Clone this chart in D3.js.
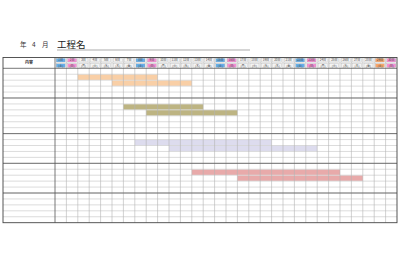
<!DOCTYPE html>
<html><head><meta charset="utf-8">
<script src="https://cdn.jsdelivr.net/npm/d3@7"></script>
<style>html,body{margin:0;padding:0;background:#fff;}svg{display:block;}</style>
</head><body>
<svg id="c" width="400" height="275"></svg>
<script>
// ---- data ----
const titleMonth = "4";
const titleText = "工程名";
const labelHeader = "内容";
const days = d3.range(1, 31).map(d => d + "日");
const weekdays = ["土","日","月","火","水","木","金","土","日","月","火","水","木","金","土","日","月","火","水","木","金","土","日","月","火","水","木","金","土","日"];
const dayTypes = ["sat","sun","w","w","w","w","w","sat","sun","w","w","w","w","w","sat","sun","w","w","w","w","w","sat","sun","w","w","w","w","w","hol","sun"];
const groupSizes = [5, 6, 5, 5, 5];
const barRows   = [1, 2, 6, 7, 12, 13, 17, 18];
const barStart  = [3, 6, 7, 9, 8, 11, 13, 17];
const barEnd    = [9, 12, 13, 16, 19, 23, 25, 27];
const barGroup  = ["a","a","b","b","c","c","d","d"];

// ---- styles ----
const barColors = {a:"#f9cfa6", b:"#bdb482", c:"#dddcee", d:"#e8aaaa"};
const headColors = {sat:"#66aee8", sun:"#f58fd2", hol:"#f6a66a", w:"#f4f4f4"};

const svg = d3.select("#c");
const left = 3, labelW = 55, right = 397;
const headTop = 57.5, headMid = 62.9, bodyTop = 68.3, bodyBot = 222.7;
const nRows = d3.sum(groupSizes);

const x = d3.scaleBand().domain(days).range([labelW, right]);
const y = d3.scaleLinear().domain([0, nRows]).range([bodyTop, bodyBot]);

// title
svg.append("text").attr("x", 20).attr("y", 47).attr("font-size", 6.5)
  .attr("font-family", "Noto Sans CJK JP").attr("fill", "#333").text("年");
svg.append("text").attr("x", 32).attr("y", 47).attr("font-size", 6.5)
  .attr("font-family", "Noto Sans CJK JP").attr("fill", "#333").text(titleMonth);
svg.append("text").attr("x", 42).attr("y", 47).attr("font-size", 6.5)
  .attr("font-family", "Noto Sans CJK JP").attr("fill", "#333").text("月");
svg.append("text").attr("x", 57).attr("y", 47.5).attr("font-size", 9.5)
  .attr("font-family", "Noto Sans CJK JP").attr("fill", "#222").text(titleText);
svg.append("line").attr("x1", 57).attr("x2", 250).attr("y1", 50).attr("y2", 50)
  .attr("stroke", "#888").attr("stroke-width", 0.7);

// header cells
const hc = svg.append("g");
days.forEach((d, i) => {
  const x0 = x(d), w = x.bandwidth();
  [[headTop, headMid, d], [headMid, bodyTop, "(" + weekdays[i] + ")"]].forEach(([a, b, t]) => {
    hc.append("rect").attr("x", x0 + 1.2).attr("y", a + 0.9).attr("width", w - 2.4).attr("height", b - a - 1.8)
      .attr("fill", headColors[dayTypes[i]]).attr("stroke", "#aaa").attr("stroke-width", 0.3);
    hc.append("text").attr("x", x0 + w / 2).attr("y", (a + b) / 2 + 1.1)
      .attr("text-anchor", "middle").attr("font-size", 3).attr("font-family", "Noto Sans CJK JP")
      .attr("fill", "#444").text(t);
  });
});
svg.append("text").attr("x", (left + labelW) / 2).attr("y", (headTop + bodyTop) / 2 + 1.5)
  .attr("text-anchor", "middle").attr("font-size", 4).attr("font-weight", "bold")
  .attr("font-family", "Noto Sans CJK JP").attr("fill", "#333").text(labelHeader);

// bars
svg.append("g").selectAll("rect").data(barRows).join("rect")
  .attr("x", (r, i) => x(days[barStart[i] - 1]))
  .attr("width", (r, i) => x(days[barEnd[i] - 1]) + x.bandwidth() - x(days[barStart[i] - 1]))
  .attr("y", r => y(r) + 0.3)
  .attr("height", r => y(r + 1) - y(r) - 0.6)
  .attr("fill", (r, i) => barColors[barGroup[i]]);

// grid: horizontal thin lines
const g = svg.append("g");
d3.range(1, nRows).forEach(r => {
  g.append("line").attr("x1", left).attr("x2", right).attr("y1", y(r)).attr("y2", y(r))
    .attr("stroke", "#c4c4c4").attr("stroke-width", 0.6);
});
// vertical lines
days.forEach((d, i) => {
  if (i === 0) return;
  g.append("line").attr("x1", x(d)).attr("x2", x(d)).attr("y1", headTop).attr("y2", bodyBot)
    .attr("stroke", "#b4b4b4").attr("stroke-width", 0.6);
});
g.append("line").attr("x1", labelW).attr("x2", labelW).attr("y1", headTop).attr("y2", bodyBot)
  .attr("stroke", "#555").attr("stroke-width", 0.8);
// header separator
g.append("line").attr("x1", labelW).attr("x2", right).attr("y1", headMid).attr("y2", headMid)
  .attr("stroke", "#bbb").attr("stroke-width", 0.4);
// group lines
const cum = d3.cumsum(groupSizes);
[0, ...cum.slice(0, -1)].forEach(r => {
  g.append("line").attr("x1", left).attr("x2", right).attr("y1", y(r)).attr("y2", y(r))
    .attr("stroke", "#555").attr("stroke-width", 0.8);
});
// outer border
g.append("rect").attr("x", left).attr("y", headTop).attr("width", right - left).attr("height", bodyBot - headTop)
  .attr("fill", "none").attr("stroke", "#444").attr("stroke-width", 0.9);
</script>
</body></html>
